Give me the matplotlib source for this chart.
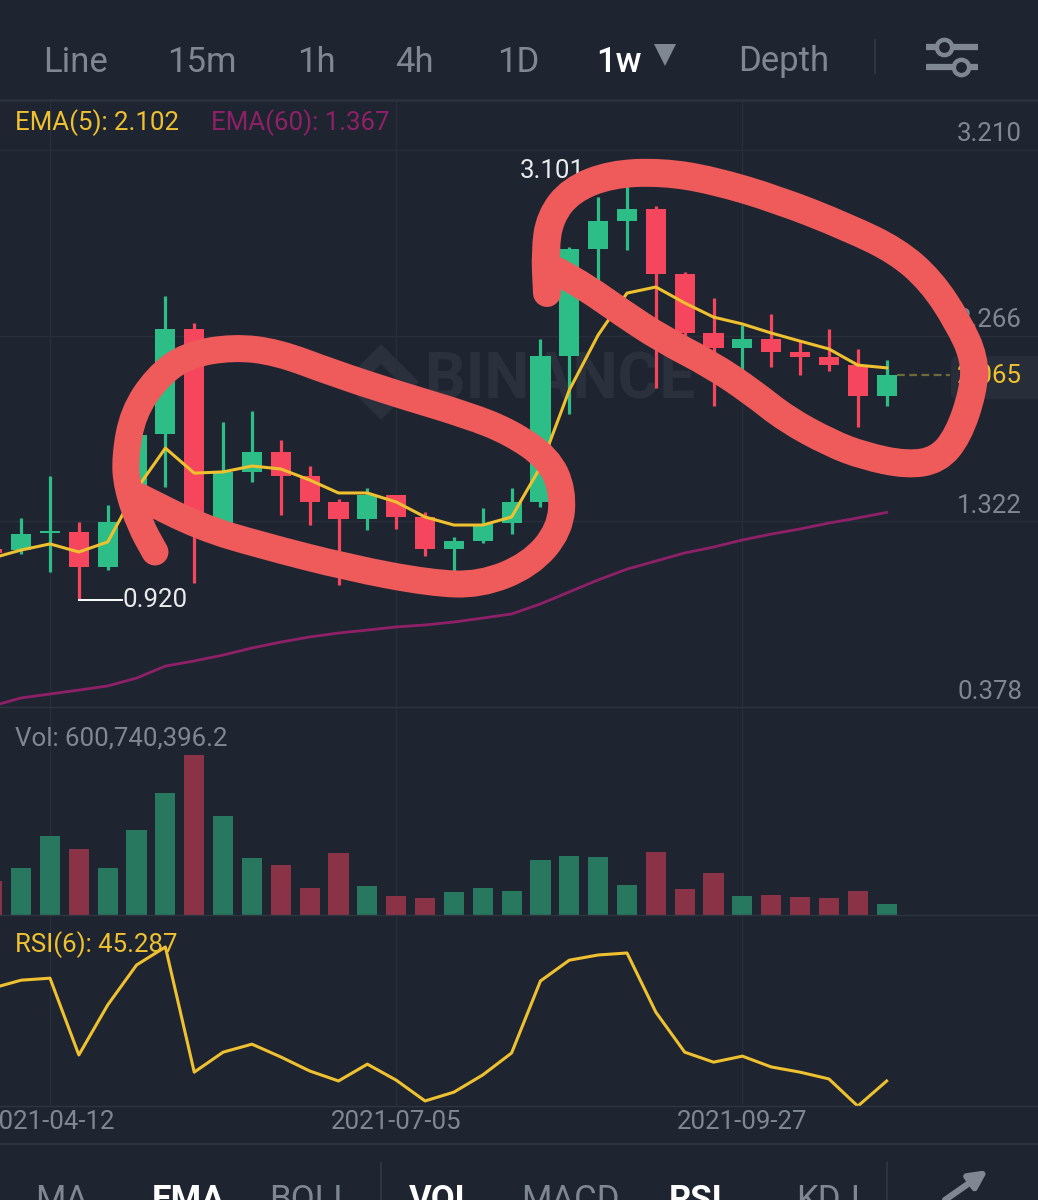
#!/usr/bin/env python3
"""Weekly candlestick screenshot with EMA, volume and RSI panes, plus hand-drawn red circles."""
import matplotlib
matplotlib.use("Agg")
import matplotlib.pyplot as plt
import numpy as np
from matplotlib.patches import FancyBboxPatch, PathPatch
from matplotlib.path import Path

BG = "#1E2530"
GRID = "#282F3A"
SEP = "#2E3540"
TEXT = "#7F8793"
GREEN = "#2DBE87"
RED = "#F6465D"
VOL_GREEN = "#27785F"
VOL_RED = "#8B3346"
YELLOW = "#EFC02F"
PURPLE = "#8F2068"
MARKER = "#EF5A5A"

plt.rcParams.update({"font.family": ["Roboto", "DejaVu Sans"], "text.color": TEXT})

# week index, 0 = 2021-04-12
weeks = list(range(-2, 30))
opens = [1.181, 1.176, 1.262, 1.268, 1.090, 1.318, 1.766, 2.299, 1.313, 1.573, 1.674, 1.552,
         1.420, 1.334, 1.456, 1.344, 1.181, 1.222, 1.313, 1.420, 2.162, 2.706, 2.848, 2.909,
         2.579, 2.279, 2.203, 2.249, 2.182, 2.157, 2.116, 1.959]
closes = [1.161, 1.257, 1.273, 1.090, 1.318, 1.761, 2.299, 1.313, 1.573, 1.674, 1.552, 1.420,
          1.334, 1.456, 1.344, 1.181, 1.222, 1.308, 1.420, 2.162, 2.706, 2.848, 2.909, 2.579,
          2.279, 2.203, 2.249, 2.182, 2.157, 2.116, 1.959, 2.065]
highs = [1.185, 1.339, 1.552, 1.318, 1.405, 1.776, 2.467, 2.330, 1.827, 1.883, 1.735, 1.603,
         1.435, 1.491, 1.456, 1.369, 1.242, 1.390, 1.491, 2.249, 2.716, 2.970, 3.101, 2.925,
         2.589, 2.457, 2.320, 2.376, 2.243, 2.299, 2.198, 2.142]
lows = [1.150, 1.156, 1.064, 0.920, 1.074, 1.303, 1.496, 1.008, 1.313, 1.522, 1.354, 1.303,
        0.998, 1.278, 1.283, 1.146, 1.064, 1.212, 1.257, 1.395, 1.867, 2.447, 2.701, 1.999,
        2.254, 1.908, 2.066, 2.106, 2.066, 2.086, 1.801, 1.908]
ema5 = [1.135, 1.176, 1.207, 1.166, 1.217, 1.486, 1.694, 1.567, 1.573, 1.603, 1.588, 1.532,
        1.466, 1.466, 1.420, 1.344, 1.303, 1.303, 1.344, 1.598, 1.989, 2.269, 2.482, 2.513,
        2.432, 2.360, 2.325, 2.279, 2.238, 2.198, 2.116, 2.102]
ema60 = [0.383, 0.424, 0.444, 0.464, 0.485, 0.525, 0.586, 0.612, 0.642, 0.678, 0.708, 0.734,
         0.754, 0.769, 0.785, 0.795, 0.810, 0.830, 0.851, 0.902, 0.963, 1.024, 1.079, 1.120,
         1.161, 1.191, 1.227, 1.257, 1.283, 1.313, 1.339, 1.367]
# volume in millions
volume = [1856, 2566, 4313, 3604, 2566, 4641, 6661, 8736, 5405, 3112, 2730, 1474, 3385, 1583,
          1037, 928, 1256, 1474, 1310, 3003, 3221, 3167, 1638, 3440, 1420, 2293, 1037, 1092,
          983, 928, 1310, 600.7]
rsi = [68.5, 70.5, 71.0, 51.8, 64.3, 74.3, 78.8, 47.5, 52.5, 54.5, 51.3, 47.8, 45.3, 49.5,
       45.5, 40.3, 42.5, 46.8, 52.3, 70.3, 75.5, 76.8, 77.3, 62.5, 52.5, 50.0, 51.5, 48.8,
       47.5, 45.8, 39.0, 45.287]
price_ticks = [0.378, 1.322, 2.266, 3.210]
date_ticks = [0, 12, 24]
date_labels = ["2021-04-12", "2021-07-05", "2021-09-27"]
top_tabs = ["Line", "15m", "1h", "4h", "1D", "1w", "Depth"]
top_tab_x = [75, 202, 316, 414, 518, 619, 784]
bottom_tabs = ["MA", "EMA", "BOLL", "VOL", "MACD", "RSI", "KDJ"]
bottom_tab_x = [62, 188, 311, 442, 570, 696, 828]
bottom_active = ["EMA", "VOL", "RSI"]

# hand-drawn circles, in screen pixels
scribble_left = [(155, 552), (140, 525), (127, 487), (125, 457), (133, 413), (157, 377), (187, 355),
                 (233, 347), (277, 352), (333, 373), (400, 395), (467, 415), (510, 432), (548, 458),
                 (563, 490), (560, 530), (530, 565), (480, 585), (430, 583), (350, 568), (260, 545),
                 (200, 527), (140, 497)]
scribble_right = [(547, 293), (545, 251), (550, 217), (571, 190), (611, 174), (662, 172), (712, 180),
                  (779, 200), (847, 227), (897, 251), (931, 281), (958, 322), (975, 359), (973, 392),
                  (958, 436), (938, 460), (907, 465), (864, 456), (830, 443), (786, 419), (752, 392),
                  (712, 365), (662, 339), (621, 312), (587, 288), (557, 271)]

W, H = 1038, 1200
X0, STEP = 50, 28.85
XLIM = (-X0 / STEP, (W - X0) / STEP)
LABEL_SIZE = 18.6


def pane(top, bottom, ylim, zorder=1):
    ax = fig.add_axes([0, 1 - bottom / H, 1, (bottom - top) / H], zorder=zorder)
    ax.patch.set_alpha(0)
    ax.set_xlim(*XLIM)
    ax.set_ylim(*ylim)
    for sp in ax.spines.values():
        sp.set_visible(False)
    ax.set_xticks(date_ticks)
    ax.set_xticklabels([])
    ax.set_yticks([])
    ax.tick_params(length=0)
    ax.grid(axis="x", color=GRID, lw=1)
    ax.set_axisbelow(True)
    return ax


def pixel_axes(zorder):
    ax = fig.add_axes([0, 0, 1, 1], zorder=zorder)
    ax.patch.set_alpha(0)
    ax.set_xlim(0, W)
    ax.set_ylim(H, 0)
    ax.axis("off")
    return ax


def scribble(ax, pts, width):
    # quadratic spline through midpoints so the stroke looks hand drawn
    pts = np.array(pts, dtype=float)
    mids = (pts[:-1] + pts[1:]) / 2
    verts = [pts[0], mids[0]]
    codes = [Path.MOVETO, Path.LINETO]
    for p, m in zip(pts[1:-1], mids[1:]):
        verts += [p, m]
        codes += [Path.CURVE3, Path.CURVE3]
    verts.append(pts[-1])
    codes.append(Path.LINETO)
    ax.add_patch(PathPatch(Path(verts, codes), fc="none", ec=MARKER, lw=width * 0.72,
                           capstyle="round", joinstyle="round", zorder=5))


fig = plt.figure(figsize=(W / 100, H / 100), dpi=100, facecolor=BG)

# watermark sits under the candles
back = pixel_axes(0)
back.plot([381], [382], marker="D", ms=29, mfc="none", mec="#2A313C", mew=10)
back.text(560, 381, "BINANCE", fontsize=46, fontweight="bold", color="#2A313C", ha="center", va="center")
back.add_patch(FancyBboxPatch((951, 356), 100, 43, boxstyle="round,pad=0,rounding_size=7",
                              fc="#272E39", ec="none"))

px_per_price = 185.7 / 0.944
ax_p = pane(101, 707, (0.378, 0.378 + 606 / px_per_price))
ax_v = pane(707, 915, (0, 208 * 54.6))
ax_r = pane(915, 1106, (39.037, 86.8))

# price pane
ax_p.set_yticks(price_ticks)
ax_p.set_yticklabels([])
ax_p.grid(axis="y", color=GRID, lw=1)
colors = [GREEN if c >= o else RED for o, c in zip(opens, closes)]
ax_p.vlines(weeks, lows, highs, colors=colors, lw=2.3, zorder=2)
ax_p.bar(weeks, np.array(closes) - np.array(opens), bottom=opens, width=0.7, color=colors, lw=0, zorder=3)
ax_p.plot(weeks, ema60, color=PURPLE, lw=2, zorder=4)
ax_p.plot(weeks, ema5, color=YELLOW, lw=2.2, zorder=4)
ax_p.plot([weeks[-1] + 0.35, 31.2], [closes[-1]] * 2, color="#6E6A3C", lw=1.6, ls=(0, (3.5, 2)), zorder=2)
for v in price_ticks:
    ax_p.annotate(f"{v:.3f}", (1, v), xycoords=ax_p.get_yaxis_transform(), xytext=(-11.5, 2.5),
                  textcoords="offset points", ha="right", va="bottom", fontsize=LABEL_SIZE, color=TEXT)
# high and low callouts
ax_p.plot([1, 2.5], [0.920, 0.920], color="white", lw=1.4, zorder=4)
ax_p.text(2.5, 0.920, "0.920", fontsize=LABEL_SIZE, color="#E8EAED", va="center", ha="left")
ax_p.text(17.4, 3.101, "3.101", fontsize=LABEL_SIZE, color="#E8EAED", va="center", ha="center")
ax_p.text(0.0145, 0.965, "EMA(5): 2.102", transform=ax_p.transAxes, fontsize=LABEL_SIZE, color=YELLOW, va="center")
ax_p.text(0.203, 0.965, "EMA(60): 1.367", transform=ax_p.transAxes, fontsize=LABEL_SIZE, color=PURPLE, va="center")

# volume pane
vol_colors = [VOL_GREEN if c >= o else VOL_RED for o, c in zip(opens, closes)]
ax_v.bar(weeks, volume, width=0.7, color=vol_colors, lw=0, zorder=3)
ax_v.text(0.0145, 0.848, "Vol: 600,740,396.2", transform=ax_v.transAxes, fontsize=LABEL_SIZE, color=TEXT, va="center")

# rsi pane
ax_r.plot(weeks, rsi, color=YELLOW, lw=2.2, zorder=3, clip_on=True)
ax_r.text(0.0145, 0.847, "RSI(6): 45.287", transform=ax_r.transAxes, fontsize=LABEL_SIZE, color=YELLOW, va="center")
ax_r.set_xticklabels(date_labels)
ax_r.tick_params(axis="x", labelsize=LABEL_SIZE, labelcolor=TEXT, pad=3)

# toolbar chrome and the red circles go on top
top = pixel_axes(3)
for y in (707, 915, 1106):
    top.plot([0, W], [y, y], color=SEP, lw=1, zorder=1)
top.plot([0, W], [100, 100], color="#2A313C", lw=2, zorder=1)
top.plot([0, W], [1144, 1144], color="#2E3540", lw=1.5, zorder=1)
for name, x in zip(top_tabs, top_tab_x):
    top.text(x, 62, name, fontsize=25, ha="center", va="center",
             color="white" if name == "1w" else TEXT, fontweight="medium" if name == "1w" else "normal")
top.plot([665], [55], marker="v", ms=16, color=TEXT, mew=0)
top.plot([875, 875], [40, 73], color=SEP, lw=1.5)
for y, cx in ((47, 944), (67, 961)):
    top.plot([926, 978], [y, y], color=TEXT, lw=4.5, solid_capstyle="butt", zorder=2)
    top.plot([cx], [y], marker="o", ms=11, mfc=BG, mec=TEXT, mew=3.2, zorder=3)
for name, x in zip(bottom_tabs, bottom_tab_x):
    active = name in bottom_active
    top.text(x, 1200, name, fontsize=25, ha="center", va="center", clip_on=True,
             color="white" if active else TEXT, fontweight="bold" if active else "normal")
top.plot([381, 381], [1163, 1200], color=SEP, lw=1.5)
top.plot([887, 887], [1163, 1200], color=SEP, lw=1.5)
top.annotate("", xy=(988, 1170), xytext=(945, 1200),
             arrowprops=dict(arrowstyle="-|>", color=TEXT, lw=4.5, mutation_scale=26, shrinkA=0, shrinkB=0))
top.text(1022, 376, "2.065", fontsize=LABEL_SIZE, color=YELLOW, ha="right", va="center", zorder=2)
scribble(top, scribble_left, 27)
scribble(top, scribble_right, 28)

fig.savefig("out.png", dpi=100, facecolor=BG)
